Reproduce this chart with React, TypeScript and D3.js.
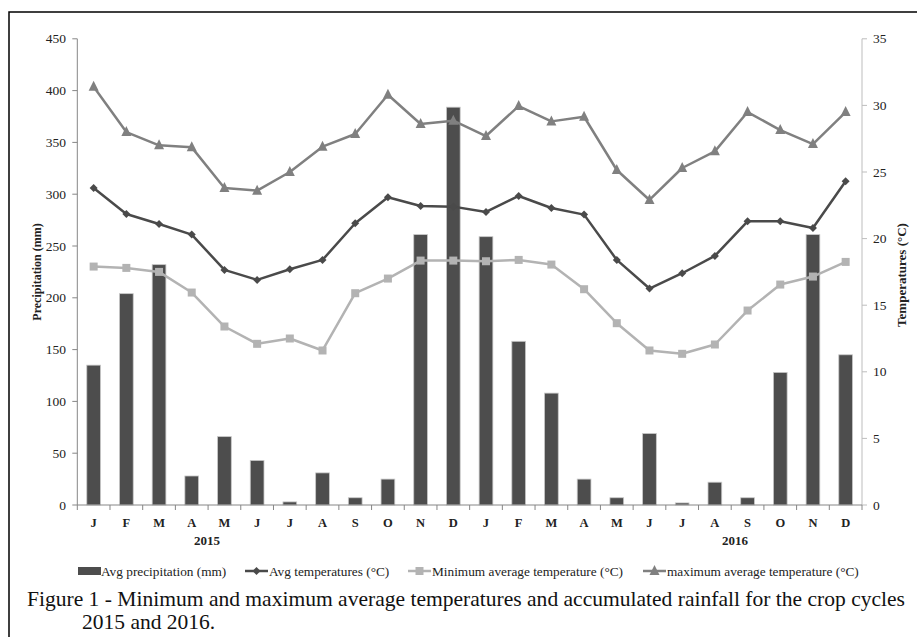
import React from "react";
import * as d3 from "d3";

const months = ["J","F","M","A","M","J","J","A","S","O","N","D","J","F","M","A","M","J","J","A","S","O","N","D"];
const precipitation = [135,204,232,28,66,43,3,31,7,25,261,384,259,158,108,25,7,69,2,22,7,128,261,145];
const avgTemp = [23.8,21.85,21.1,20.3,17.65,16.9,17.7,18.4,21.15,23.1,22.45,22.4,22.0,23.2,22.3,21.8,18.4,16.25,17.4,18.7,21.3,21.3,20.8,24.3];
const minTemp = [17.9,17.8,17.5,15.95,13.4,12.1,12.5,11.6,15.9,17.0,18.35,18.35,18.3,18.4,18.05,16.2,13.65,11.6,11.35,12.05,14.6,16.55,17.15,18.25];
const maxTemp = [31.4,28.0,27.0,26.85,23.8,23.6,25.0,26.9,27.85,30.8,28.6,28.85,27.7,29.95,28.8,29.15,25.15,22.9,25.3,26.55,29.5,28.15,27.1,29.5];
const precipTicks = [0,50,100,150,200,250,300,350,400,450];
const tempTicks = [0,5,10,15,20,25,30,35];
const years = ["2015","2016"];
const legendLabels = ["Avg precipitation (mm)","Avg temperatures (°C)","Minimum average temperature (°C)","maximum average temperature (°C)"];
const captionLines = ["Figure 1 - Minimum and maximum average temperatures and accumulated rainfall for the crop cycles","2015 and 2016."];

const W = 917, H = 637;
const left = 77.3, right = 862, top = 38.8, bottom = 505;
const serif = "'Liberation Serif', 'Times New Roman', serif";

const barColor = "#4d4d4d";
const avgColor = "#4a4a4a";
const minColor = "#b3b3b3";
const maxColor = "#808080";

function Marker({ kind, x, y, color }: { kind: string; x: number; y: number; color: string }) {
  if (kind === "diamond") {
    const r = 4;
    return <path d={`M${x},${y - r}L${x + r},${y}L${x},${y + r}L${x - r},${y}Z`} fill={color} />;
  }
  if (kind === "square") {
    const r = 4;
    return <rect x={x - r} y={y - r} width={2 * r} height={2 * r} fill={color} />;
  }
  const r = 5;
  return <path d={`M${x},${y - r - 1}L${x + r},${y + r - 1}L${x - r},${y + r - 1}Z`} fill={color} />;
}

export default function App() {
  const x = d3.scaleBand<number>().domain(d3.range(months.length)).range([left, right]).paddingInner(0.58).paddingOuter(0.29);
  const step = x.step();
  const yP = d3.scaleLinear().domain([0, 450]).range([bottom, top]);
  const yT = d3.scaleLinear().domain([0, 35]).range([bottom, top]);
  const cx = (i: number) => (x(i) as number) + x.bandwidth() / 2;
  const line = (vals: number[]) => d3.line<number>().x((_, i) => cx(i)).y((v) => yT(v))(vals) as string;

  const series = [
    { vals: avgTemp, color: avgColor, kind: "diamond" },
    { vals: minTemp, color: minColor, kind: "square" },
    { vals: maxTemp, color: maxColor, kind: "triangle" },
  ];

  const boundaries = d3.range(months.length + 1).map((i) => left + i * step);

  const legendItems = [
    { x: 78, tx: 101, kind: "bar", color: barColor },
    { x: 245, tx: 269, kind: "diamond", color: avgColor },
    { x: 408, tx: 432, kind: "square", color: minColor },
    { x: 643, tx: 667, kind: "triangle", color: maxColor },
  ];
  const ly = 571;

  return (
    <svg width={W} height={H} style={{ position: "absolute", left: 0, top: 0, background: "#fff" }}>
      <rect x={9} y={12} width={W + 20} height={H + 20} fill="none" stroke="#000" strokeWidth={1.5} />
      {/* bars */}
      {precipitation.map((v, i) => (
        <rect key={i} x={x(i)} y={yP(v)} width={x.bandwidth()} height={bottom - yP(v)} fill={barColor} stroke="#c8c8c8" strokeWidth={0.8} />
      ))}
      {/* left axis */}
      <line x1={left} x2={left} y1={top} y2={bottom} stroke="#868686" strokeWidth={1} />
      {precipTicks.map((t) => (
        <g key={t}>
          <line x1={left - 5} x2={left} y1={yP(t)} y2={yP(t)} stroke="#868686" />
          <text x={66} y={yP(t) + 4.5} textAnchor="end" fontFamily={serif} fontSize={13.5} fill="#222">{t}</text>
        </g>
      ))}
      {/* right axis */}
      <line x1={right} x2={right} y1={top} y2={bottom} stroke="#bdbdbd" strokeWidth={1} />
      {tempTicks.map((t) => (
        <g key={t}>
          <line x1={right} x2={right + 5} y1={yT(t)} y2={yT(t)} stroke="#bdbdbd" />
          <text x={873} y={yT(t) + 4.5} textAnchor="start" fontFamily={serif} fontSize={13.5} fill="#222">{t}</text>
        </g>
      ))}
      {/* x axis */}
      <line x1={left} x2={right} y1={bottom} y2={bottom} stroke="#868686" />
      {boundaries.map((b, i) => (
        <line key={i} x1={b} x2={b} y1={bottom} y2={bottom + 5} stroke="#868686" />
      ))}
      {months.map((m, i) => (
        <text key={i} x={cx(i)} y={527} textAnchor="middle" fontFamily={serif} fontSize={12.5} fontWeight="bold" fill="#222">{m}</text>
      ))}
      <text x={207} y={545} textAnchor="middle" fontFamily={serif} fontSize={13} fontWeight="bold" fill="#222">{years[0]}</text>
      <text x={735} y={545} textAnchor="middle" fontFamily={serif} fontSize={13} fontWeight="bold" fill="#222">{years[1]}</text>
      {/* axis titles */}
      <text transform="translate(41,272) rotate(-90)" textAnchor="middle" fontFamily={serif} fontSize={12} fontWeight="bold" fill="#222">Precipitation (mm)</text>
      <text transform="translate(906,275) rotate(-90)" textAnchor="middle" fontFamily={serif} fontSize={13} fontWeight="bold" fill="#222">Temperatures (°C)</text>
      {/* lines */}
      {series.map((s, k) => (
        <g key={k}>
          <path d={line(s.vals)} fill="none" stroke={s.color} strokeWidth={2.5} strokeLinejoin="round" />
          {s.vals.map((v, i) => (
            <Marker key={i} kind={s.kind} x={cx(i)} y={yT(v)} color={s.color} />
          ))}
        </g>
      ))}
      {/* legend */}
      {legendItems.map((it, k) => (
        <g key={k}>
          {it.kind === "bar" ? (
            <rect x={it.x} y={ly - 4} width={23} height={8} fill={barColor} />
          ) : (
            <g>
              <line x1={it.x} x2={it.x + 23} y1={ly} y2={ly} stroke={it.color} strokeWidth={2.5} />
              <Marker kind={it.kind} x={it.x + 11.5} y={ly} color={it.color} />
            </g>
          )}
          <text x={it.tx} y={ly + 5} fontFamily={serif} fontSize={13.3} fill="#222">{legendLabels[k]}</text>
        </g>
      ))}
      {/* caption */}
      <text x={27} y={606} fontFamily={serif} fontSize={21.5} textLength={878} lengthAdjust="spacingAndGlyphs" fill="#111">{captionLines[0]}</text>
      <text x={82} y={629} fontFamily={serif} fontSize={21.5} fill="#111">{captionLines[1]}</text>
    </svg>
  );
}
